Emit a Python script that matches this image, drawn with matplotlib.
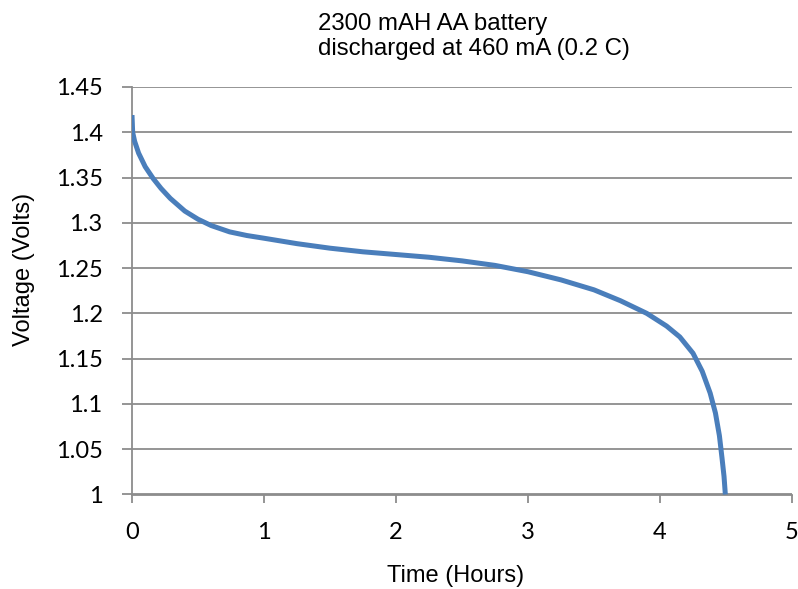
import matplotlib
matplotlib.use("Agg")
import matplotlib.pyplot as plt

# discharge curve (hours, volts)
hours = [0, 0.005, 0.02, 0.05, 0.1, 0.16, 0.22, 0.29, 0.4, 0.5, 0.6, 0.74,
         0.87, 1.0, 1.25, 1.5, 1.75, 2.0, 2.25, 2.5, 2.75, 3.0, 3.25, 3.5,
         3.7, 3.9, 4.05, 4.15, 4.25, 4.32, 4.38, 4.42, 4.45, 4.47, 4.485,
         4.495]
volts = [1.419, 1.40, 1.39, 1.377, 1.362, 1.349, 1.338, 1.327, 1.313, 1.304,
         1.297, 1.290, 1.286, 1.283, 1.277, 1.272, 1.268, 1.265, 1.262, 1.258,
         1.253, 1.246, 1.237, 1.226, 1.214, 1.200, 1.186, 1.174, 1.156, 1.136,
         1.112, 1.09, 1.065, 1.04, 1.02, 1.0]
x_ticks = [0, 1, 2, 3, 4, 5]
y_ticks = [1, 1.05, 1.1, 1.15, 1.2, 1.25, 1.3, 1.35, 1.4, 1.45]
y_tick_labels = ["1", "1.05", "1.1", "1.15", "1.2", "1.25", "1.3", "1.35", "1.4", "1.45"]
title_lines = ["2300 mAH AA battery", "discharged at 460 mA (0.2 C)"]

TICK_FONT = "Lato"
TEXT_FONT = "Liberation Sans"
GRID = "#8c8c8c"
W, H = 798, 589

fig = plt.figure(figsize=(W / 100, H / 100), dpi=100)
ax = fig.add_axes([132 / W, 1 - 494.5 / H, 660 / W, 407.5 / H])

ax.plot(hours, volts, color="#4A7EBB", lw=3.6, solid_capstyle="butt",
        solid_joinstyle="round", zorder=3)

ax.set_xlim(0, 5)
ax.set_ylim(1, 1.45)
ax.set_xticks(x_ticks)
ax.set_yticks(y_ticks)
ax.set_yticklabels(y_tick_labels)
ax.grid(axis="y", color=GRID, lw=1.3)
for side in ("top", "right"):
    ax.spines[side].set_visible(False)
for side in ("left", "bottom"):
    ax.spines[side].set_color(GRID)
    ax.spines[side].set_linewidth(1.3)
ax.tick_params(axis="x", direction="out", length=6, width=1.3, color=GRID,
               pad=14)
ax.tick_params(axis="y", direction="out", length=7.2, width=1.3, color=GRID,
               pad=14)
for lab in ax.get_xticklabels() + ax.get_yticklabels():
    lab.set_fontfamily(TICK_FONT)
    lab.set_fontsize(17)

fig.text(455.5 / W, 1 - 582 / H, "Time (Hours)", ha="center", va="baseline",
         family=TEXT_FONT, fontsize=17)
fig.text(24 / W, 1 - 269 / H, "Voltage (Volts)", ha="center", va="center",
         rotation=90, family=TEXT_FONT, fontsize=17)

for line, base in zip(title_lines, (30, 55)):
    fig.text(318 / W, 1 - base / H, line, ha="left", va="baseline",
             family=TEXT_FONT, fontsize=17.3)

fig.savefig("out.png", dpi=100, facecolor="white")
